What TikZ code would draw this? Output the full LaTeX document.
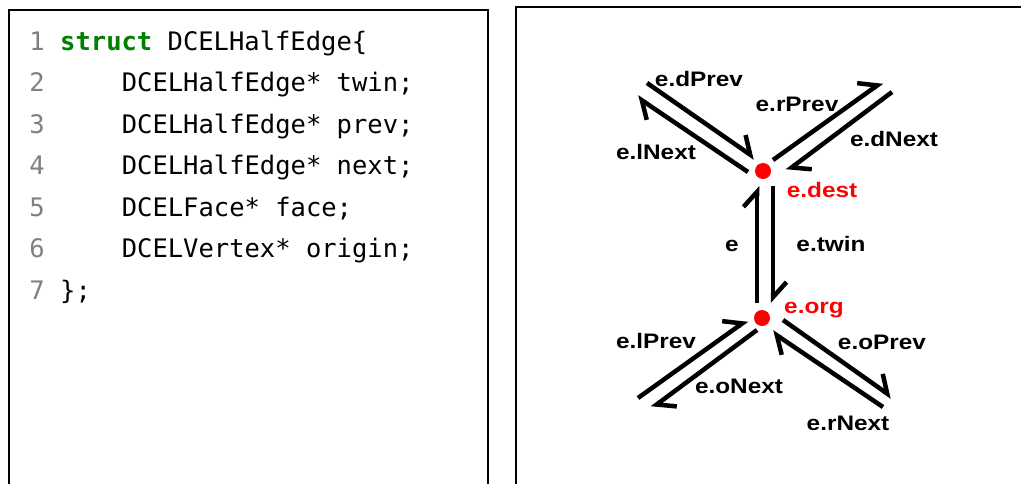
\documentclass[tikz,border=0pt]{standalone}
\usepackage{graphicx}
\usepackage{fontspec}
\setmainfont{Liberation Sans}
\newfontfamily\codefont{DejaVu Sans Mono}
\usetikzlibrary{arrows.meta}
\definecolor{numgray}{RGB}{128,128,128}
\definecolor{kwgreen}{RGB}{0,128,0}
\definecolor{vred}{RGB}{255,0,0}
\newcommand\stretched[1]{\scalebox{1.16}[1]{#1}}
\begin{document}
\begin{tikzpicture}[x=1pt,y=-1pt,
  frame/.style={line width=2pt, black},
  lineno/.style={anchor=base west, inner sep=0, text=numgray, font=\codefont\fontsize{25.5}{25.5}\selectfont},
  code/.style={anchor=base west, inner sep=0, font=\codefont\fontsize{25.5}{25.5}\selectfont},
  halfedge/.style={line width=4.5pt, -{Straight Barb[harpoon, length=15pt, angle'=84]}},
  vertex/.style={circle, fill=vred, minimum size=16pt, inner sep=0},
  lbl/.style={anchor=base, inner sep=0, font=\bfseries\fontsize{21}{21}\selectfont},
  redlbl/.style={lbl, text=vred},
]
\clip (0,0) rectangle (1021,483);

% panel frames, open at the bottom
\draw[frame] (9,490) -- (9,10) -- (488,10) -- (488,490);
\draw[frame] (516,490) -- (516,7) -- (1030,7);

% code listing
\node[lineno] (n1) at (29.2,50)  {1};
\node[lineno] (n2) at (29.2,91.5){2};
\node[lineno] (n3) at (29.2,133) {3};
\node[lineno] (n4) at (29.2,174.5){4};
\node[lineno] (n5) at (29.2,216) {5};
\node[lineno] (n6) at (29.2,257.5){6};
\node[lineno] (n7) at (29.2,299) {7};

\node[code] (c1) at (60,50)    {\textcolor{kwgreen}{\bfseries struct} DCELHalfEdge\{};
\node[code] (c2) at (121.6,91.5) {DCELHalfEdge* twin;};
\node[code] (c3) at (121.6,133)  {DCELHalfEdge* prev;};
\node[code] (c4) at (121.6,174.5){DCELHalfEdge* next;};
\node[code] (c5) at (121.6,216)  {DCELFace* face;};
\node[code] (c6) at (121.6,257.5){DCELVertex* origin;};
\node[code] (c7) at (60,299)   {\};};

% vertices
\node[vertex] (dest) at (763,171) {};
\node[vertex] (org)  at (762,318) {};

% half-edge end points
\coordinate (lNextA) at (748,172); \coordinate (lNextB) at (637,97);
\coordinate (dPrevA) at (647,83);  \coordinate (dPrevB) at (755,158);
\coordinate (rPrevA) at (773,160); \coordinate (rPrevB) at (882,82);
\coordinate (dNextA) at (892,92);  \coordinate (dNextB) at (787,171);
\coordinate (eA)     at (757,303); \coordinate (eB)     at (757,186);
\coordinate (twinA)  at (773,186); \coordinate (twinB)  at (773,303);
\coordinate (lPrevA) at (638,398); \coordinate (lPrevB) at (747,320);
\coordinate (oNextA) at (757,330); \coordinate (oNextB) at (652,408);
\coordinate (oPrevA) at (783,320); \coordinate (oPrevB) at (892,397);
\coordinate (rNextA) at (883,407); \coordinate (rNextB) at (772,332);

\draw[halfedge] (lNextA) -- (lNextB);
\draw[halfedge] (dPrevA) -- (dPrevB);
\draw[halfedge] (rPrevA) -- (rPrevB);
\draw[halfedge] (dNextA) -- (dNextB);
\draw[halfedge] (eA) -- (eB);
\draw[halfedge] (twinA) -- (twinB);
\draw[halfedge] (lPrevA) -- (lPrevB);
\draw[halfedge] (oNextA) -- (oNextB);
\draw[halfedge] (oPrevA) -- (oPrevB);
\draw[halfedge] (rNextA) -- (rNextB);

% labels
\node[lbl] (tdPrev) at (699,86)  {\stretched{e.dPrev}};
\node[lbl] (trPrev) at (797,111) {\stretched{e.rPrev}};
\node[lbl] (tlNext) at (656,159) {\stretched{e.lNext}};
\node[lbl] (tdNext) at (894,146) {\stretched{e.dNext}};
\node[redlbl] (tdest) at (822,197) {\stretched{e.dest}};
\node[lbl] (te)     at (732,251) {\stretched{e}};
\node[lbl] (ttwin)  at (831,251) {\stretched{e.twin}};
\node[redlbl] (torg) at (814,313) {\stretched{e.org}};
\node[lbl] (tlPrev) at (656,348) {\stretched{e.lPrev}};
\node[lbl] (toPrev) at (882,349) {\stretched{e.oPrev}};
\node[lbl] (toNext) at (739,393) {\stretched{e.oNext}};
\node[lbl] (trNext) at (848,430) {\stretched{e.rNext}};
\end{tikzpicture}
\end{document}
